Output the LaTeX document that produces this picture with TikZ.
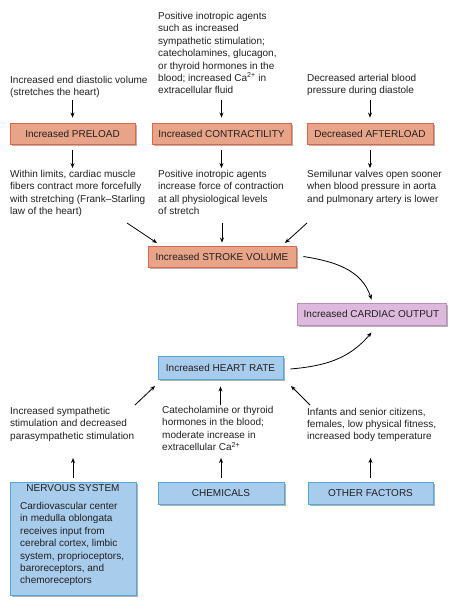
\documentclass[tikz,border=0pt]{standalone}
\usepackage{fontspec}
\setmainfont{Liberation Sans}
\usetikzlibrary{arrows.meta,shadows}
\definecolor{salfill}{RGB}{232,164,136}
\definecolor{saldraw}{RGB}{224,100,72}
\definecolor{lavfill}{RGB}{221,186,221}
\definecolor{lavdraw}{RGB}{190,140,190}
\definecolor{blufill}{RGB}{168,204,236}
\definecolor{bludraw}{RGB}{80,168,220}
\definecolor{txt}{RGB}{35,31,32}
\begin{document}
\begin{tikzpicture}[x=1pt,y=1pt,
  font=\fontsize{10}{12.4}\selectfont, text=txt,
  boxbase/.style={draw, line width=0.9pt, inner sep=0pt, minimum height=21pt,
    drop shadow={shadow xshift=2pt,shadow yshift=-2pt,fill=black!30,opacity=1}},
  redbox/.style={boxbase, fill=salfill, draw=saldraw},
  purbox/.style={boxbase, fill=lavfill, draw=lavdraw},
  blubox/.style={boxbase, fill=blufill, draw=bludraw},
  note/.style={anchor=base west, align=left, inner sep=0pt},
  arr/.style={-{Stealth[length=5pt,width=4pt]}, line width=0.8pt, draw=black},
]
\fill[white] (0,0) rectangle (453,-603);
\useasboundingbox (0,0) rectangle (453,-603);

% top texts (positions = baseline of last line)
\node[note] (t1) at (10,-95.9) {Increased end diastolic volume\\(stretches the heart)};
\node[note] (t2) at (158,-93.9) {Positive inotropic agents\\such as increased\\sympathetic stimulation;\\catecholamines, glucagon,\\or thyroid hormones in the\\blood; increased Ca\textsuperscript{2+} in\\extracellular fluid};
\node[note] (t3) at (307,-93.9) {Decreased arterial blood\\pressure during diastole};

% top boxes
\node[redbox, minimum width=125pt] (pre) at (72.5,-133.5) {Increased PRELOAD};
\node[redbox, minimum width=139pt] (con) at (221.5,-133.5) {Increased CONTRACTILITY};
\node[redbox, minimum width=126pt] (aft) at (370,-133.5) {Decreased AFTERLOAD};

\coordinate (p1) at (72.5,-100);
\coordinate (p2) at (221.5,-100);
\coordinate (p3) at (370,-100);
\draw[arr, shorten >=5pt] (p1) -- (pre);
\draw[arr, shorten >=5pt] (p2) -- (con);
\draw[arr, shorten >=5pt] (p3) -- (aft);

% second row texts
\node[note] (m1) at (10,-214.7) {Within limits, cardiac muscle\\fibers contract more forcefully\\with stretching (Frank–Starling\\law of the heart)};
\node[note] (m2) at (158,-214.7) {Positive inotropic agents\\increase force of contraction\\at all physiological levels\\of stretch};
\node[note] (m3) at (307,-202.3) {Semilunar valves open sooner\\when blood pressure in aorta\\and pulmonary artery is lower};

\coordinate (q1) at (72.5,-168);
\coordinate (q2) at (221.5,-168);
\coordinate (q3) at (370,-168);
\draw[arr, shorten <=6pt] (pre) -- (q1);
\draw[arr, shorten <=6pt] (con) -- (q2);
\draw[arr, shorten <=6pt] (aft) -- (q3);

% stroke volume
\node[redbox, minimum width=148pt] (sv) at (222,-256.5) {Increased STROKE VOLUME};
\coordinate (d1s) at (127,-223);
\coordinate (d1e) at (157,-243);
\coordinate (d2s) at (222,-223);
\coordinate (d3s) at (307,-223);
\coordinate (d3e) at (285,-243);
\draw[arr] (d1s) -- (d1e);
\draw[arr, shorten >=3pt] (d2s) -- (sv);
\draw[arr] (d3s) -- (d3e);

% cardiac output
\node[purbox, minimum width=149pt, minimum height=22pt] (co) at (371.5,-314) {Increased CARDIAC OUTPUT};
% heart rate
\node[blubox, minimum width=125pt, minimum height=23pt] (hr) at (220.5,-367.5) {Increased HEART RATE};

\draw[arr] ([xshift=7pt]sv.east) to[out=-9, in=108] ([yshift=3pt]co.north);
\draw[arr] ([xshift=7pt,yshift=-1.5pt]hr.east) to[out=5, in=-130] ([yshift=-7pt]co.south);

% inputs to heart rate
\coordinate (h1s) at (135,-405);
\coordinate (h1e) at (155,-386);
\coordinate (h2s) at (220.5,-405);
\coordinate (h3s) at (310,-405);
\coordinate (h3e) at (291,-386);
\draw[arr] (h1s) -- (h1e);
\draw[arr, shorten >=7pt] (h2s) -- (hr);
\draw[arr] (h3s) -- (h3e);

% bottom texts
\node[note] (b1) at (10,-439.3) {Increased sympathetic\\stimulation and decreased\\parasympathetic stimulation};
\node[note] (b2) at (162,-450.7) {Catecholamine or thyroid\\hormones in the blood;\\moderate increase in\\extracellular Ca\textsuperscript{2+}};
\node[note] (b3) at (307,-439.8) {Infants and senior citizens,\\females, low physical fitness,\\increased body temperature};

% bottom boxes
\node[blubox, minimum width=126pt, minimum height=113pt] (ns) at (73,-538.5) {};
\node[anchor=base, inner sep=0pt] (nst) at (73,-491.5) {NERVOUS SYSTEM};
\node[note] (nsb) at (20,-583.9) {Cardiovascular center\\in medulla oblongata\\receives input from\\cerebral cortex, limbic\\system, proprioceptors,\\baroreceptors, and\\chemoreceptors};
\node[blubox, minimum width=126pt, minimum height=22pt] (chem) at (221,-493) {CHEMICALS};
\node[blubox, minimum width=125pt, minimum height=22pt] (oth) at (370.5,-493) {OTHER FACTORS};

\coordinate (u1) at (73,-458);
\coordinate (u2) at (221,-458);
\coordinate (u3) at (370.5,-458);
\draw[arr, shorten <=4pt] (ns) -- (u1);
\draw[arr, shorten <=4pt] (chem) -- (u2);
\draw[arr, shorten <=4pt] (oth) -- (u3);
\end{tikzpicture}
\end{document}
